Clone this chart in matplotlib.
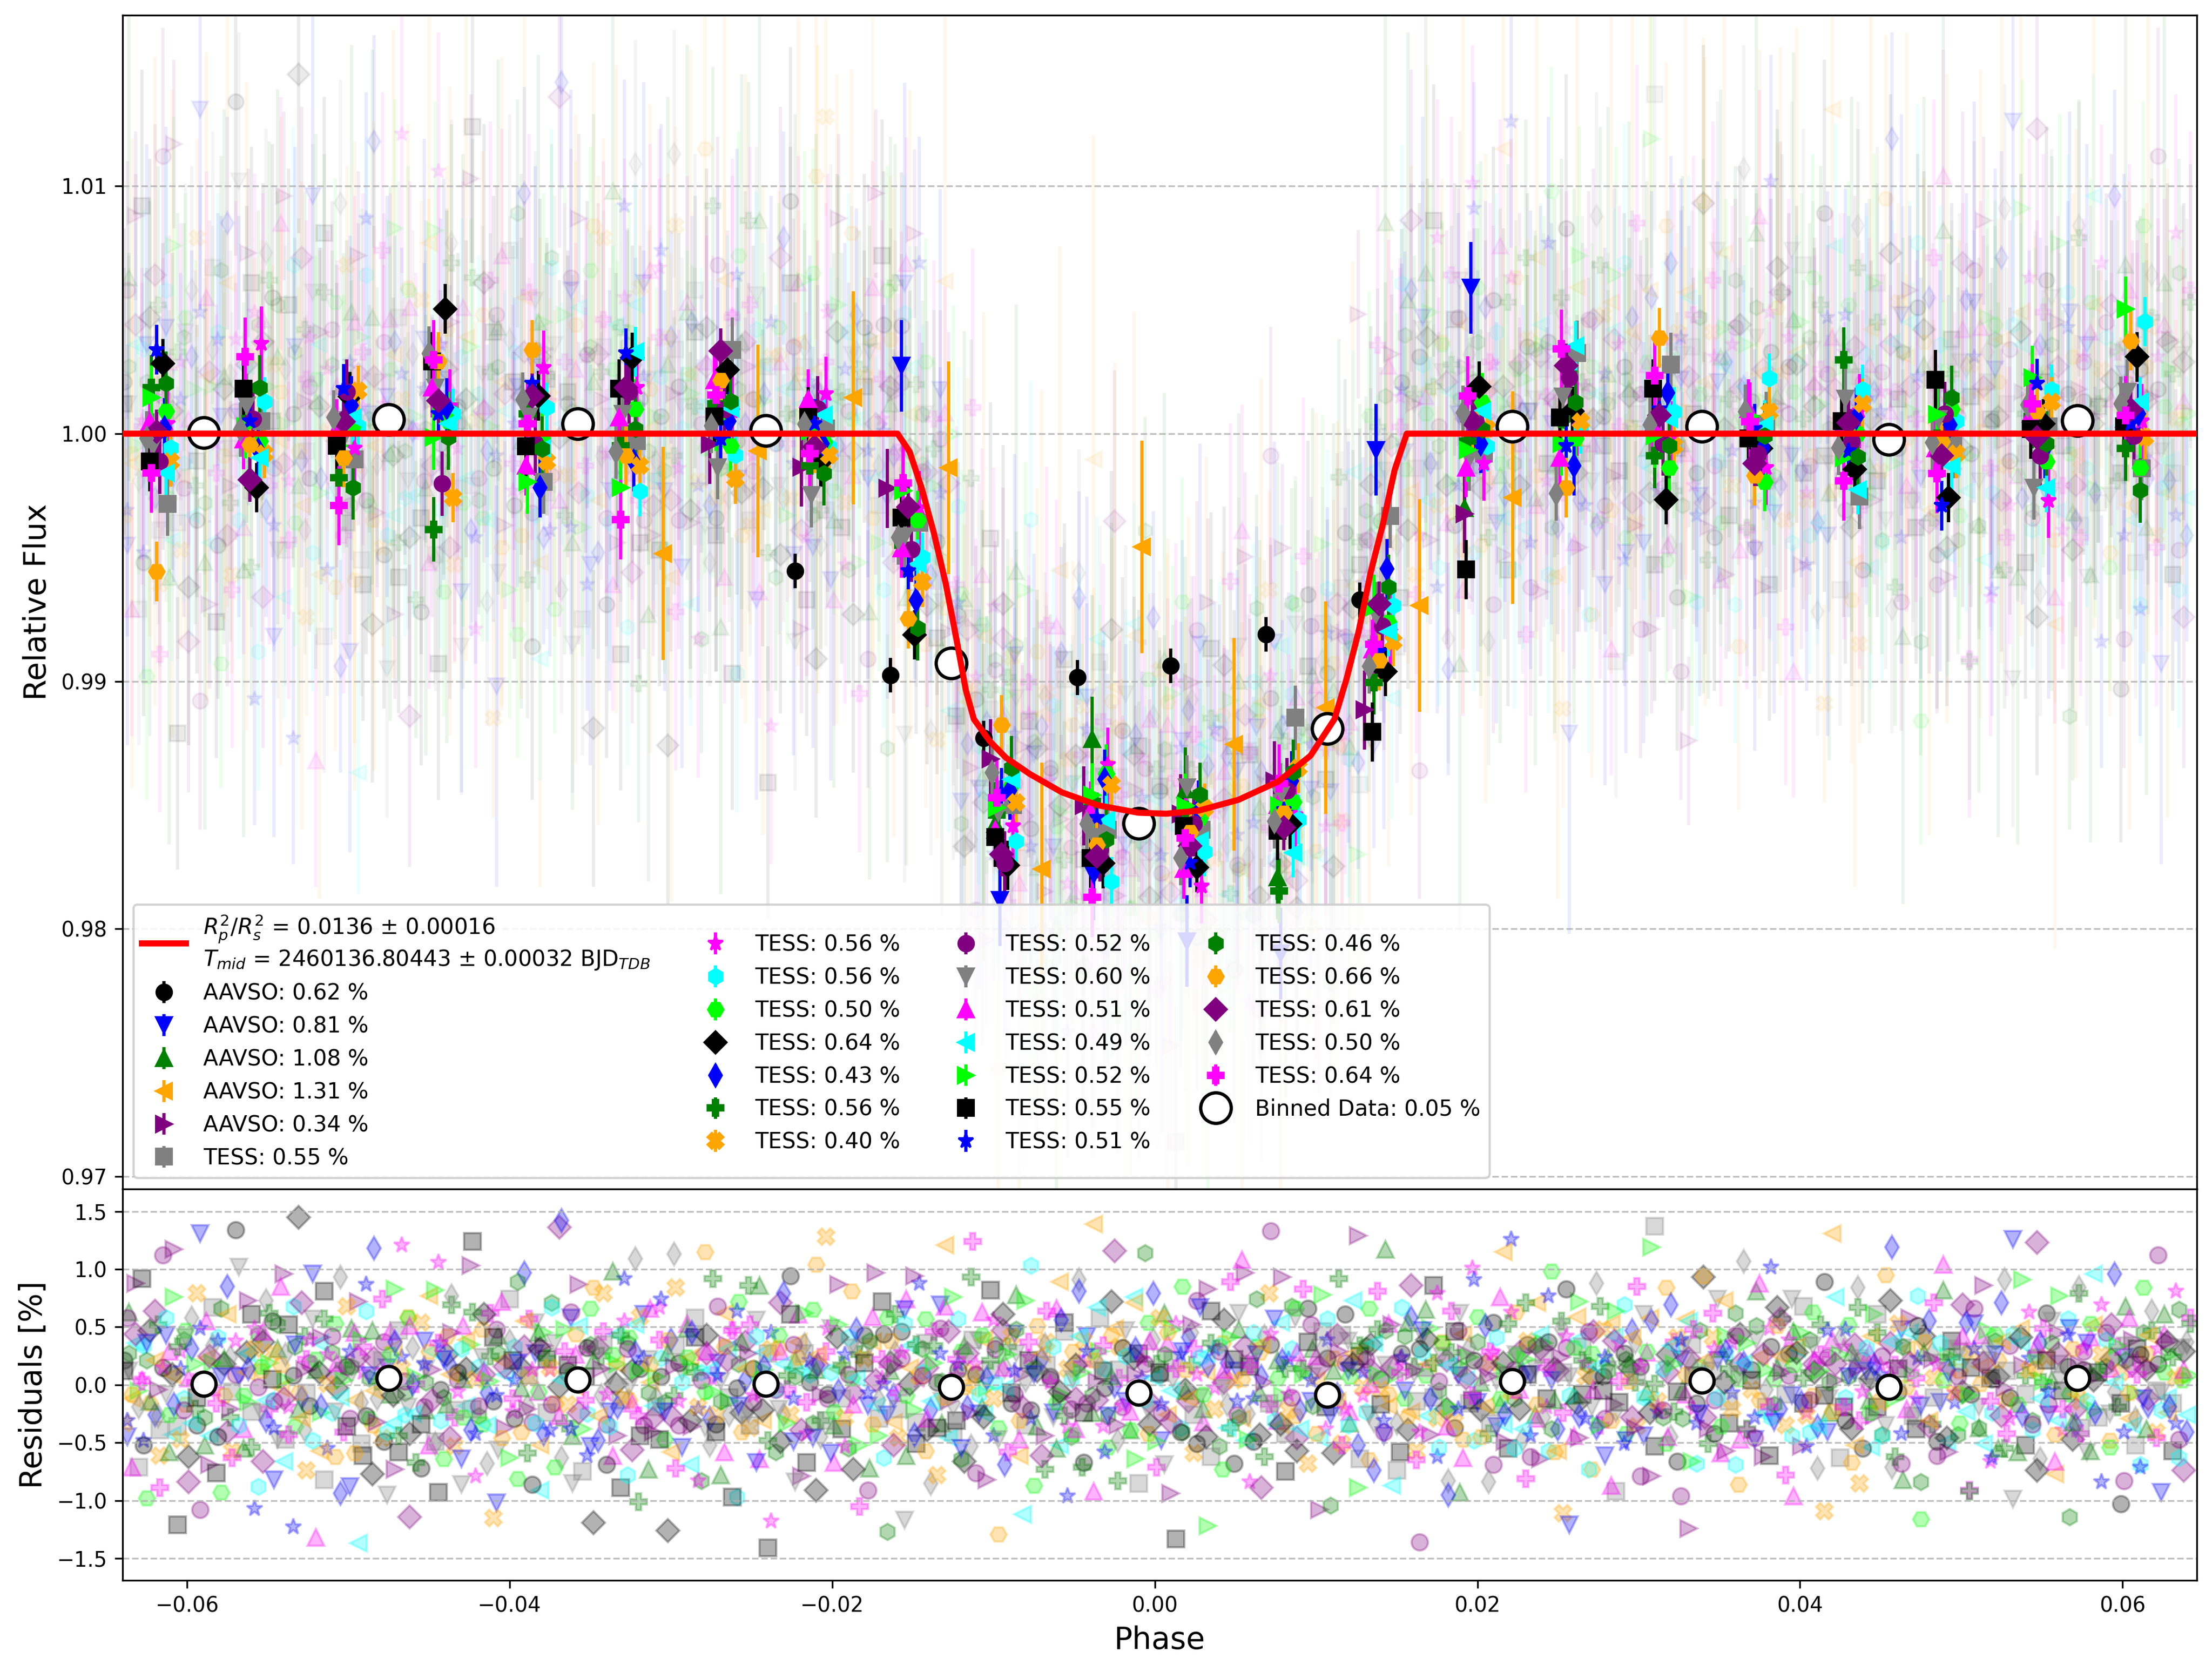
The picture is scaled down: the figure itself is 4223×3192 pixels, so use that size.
import matplotlib.pyplot as plt
import numpy as np

# ---------------- datos ----------------
# 25 conjuntos: 5 AAVSO + 20 TESS, dispersión en %
sources = ['AAVSO'] * 5 + ['TESS'] * 20
scatter_pct = [0.62, 0.81, 1.08, 1.31, 0.34, 0.55, 0.56, 0.56, 0.50, 0.64,
               0.43, 0.56, 0.40, 0.52, 0.60, 0.51, 0.49, 0.52, 0.55, 0.51,
               0.46, 0.66, 0.61, 0.50, 0.64]

# modelo de tránsito
model_phase = [-0.0640, -0.01595, -0.0152, -0.01445, -0.01371, -0.01296, -0.01222,
               -0.01172, -0.01122, -0.01023, -0.00923, -0.00774, -0.00575, -0.00352,
               -0.00103, 0.00071, 0.00269, 0.00518, 0.00766, 0.00965, 0.01114,
               0.01189, 0.01264, 0.01338, 0.01413, 0.01487, 0.01562, 0.0646]
model_flux = [1.0, 1.0, 0.99927, 0.99779, 0.99602, 0.99394, 0.99143,
              0.98965, 0.98847, 0.98758, 0.98691, 0.98625, 0.98551, 0.98499,
              0.98469, 0.98465, 0.98477, 0.98521, 0.98595, 0.98699, 0.98847,
              0.99010, 0.99202, 0.99439, 0.99631, 0.99853, 1.0, 1.0]

# puntos AAVSO agrupados (fase, flujo-1 en ppt, error ppt)
aavso_phase = [
    [-0.0223, -0.0164, -0.0106, -0.0048, 0.0010, 0.0069, 0.0127],
    [-0.0157, -0.0096, -0.0038, 0.0020, 0.0078, 0.0137, 0.0196],
    [-0.0099, -0.0039, 0.0019, 0.0076, 0.0192],
    [-0.0305, -0.0246, -0.0187, -0.0128, -0.0070, -0.0008, 0.0049, 0.0106, 0.0164, 0.0222],
    [-0.0276, -0.0219, -0.0166, -0.0102, -0.0044, 0.0016, 0.0074, 0.0130, 0.0192],
]
aavso_ppt = [
    [-5.55, -9.75, -12.29, -9.85, -9.37, -8.10, -6.72],
    [2.74, -18.84, -17.81, -20.5, -21.0, -0.65, 5.89],
    [-15.77, -12.33, -14.37, -17.92, -3.0],
    [-4.84, -0.70, 1.45, -1.38, -17.58, -4.57, -12.55, -11.07, -6.94, -2.58],
    [-0.43, -1.35, -2.21, -13.14, -15.03, -15.36, -14.03, -11.16, -3.23],
]
aavso_err_ppt = [0.7, 1.85, 1.7, 4.3, 1.6]

# puntos TESS agrupados: centros de bin + desplazamiento por sector
tess_bin_phase = [-0.0618, -0.0560, -0.0502, -0.0443, -0.0385, -0.0327, -0.0268,
                  -0.0210, -0.0152, -0.0094, -0.0035, 0.0023, 0.0081, 0.0140,
                  0.0198, 0.0256, 0.0314, 0.0373, 0.0431, 0.0489, 0.0548, 0.0606]
tess_dx = [0.0006, 0.0006, 0.0008, 0.0005, 0.0003, 0.0004, -0.0004, 0.0008, 0.0001, -0.0003,
           -0.0005, 0.0005, -0.0004, -0.0005, -0.0001, 0.0005, -0.0001, -0.0001, -0.0007, -0.0004]
tess_err_ppt = [1.3, 1.5, 1.0, 1.2, 1.0, 1.2, 1.3, 1.0, 1.3, 1.3,
                1.2, 1.0, 1.3, 1.2, 1.0, 1.3, 1.2, 0.9, 1.1, 1.6]
tess_ppt = [
    [-2.83, 0.5, -1.05, 0.9, -1.94, -0.3, 3.39, 0.2, -3.6, -15.0, -16.0, -16.0, -11.48, -3.32, -0.8, 3.26, 2.78, 0.4, -2.55, -0.5, 0.3, -1.4],
    [0.4, 3.63, -0.6, 1.1, 2.66, 1.86, 0.9, 1.61, -3.0, -15.85, -13.37, -18.29, -15.4, -8.0, -1.21, 0.6, -0.2, -1.37, 0.9, 0.3, -2.71, 0.5],
    [-0.57, 1.29, 0.3, 0.81, 1.05, -2.34, -0.86, -0.54, -5.0, -16.47, -18.10, -16.88, -15.6, -6.94, -0.52, 0.2, 0.89, 2.23, 1.78, 0.5, 1.78, 4.52],
    [0.9, -0.3, 0.32, 0.5, -0.2, 1.0, -0.48, -0.32, -3.5, -14.2, -13.74, -15.5, -14.88, -7.61, 1.26, -0.19, -1.37, -1.94, 0.0, 1.00, -1.13, -1.37],
    [2.83, -2.18, 1.5, 5.04, 1.53, 3.07, 2.58, -1.13, -8.13, -17.44, -17.36, -17.51, -15.77, -9.61, 1.91, 0.9, -2.66, -0.6, -1.45, -2.58, 0.4, 3.10],
    [0.24, -0.65, 1.13, 1.05, -2.18, -1.13, 0.5, -0.4, -6.73, -14.40, -13.96, -15.2, -14.03, -5.46, -0.40, -1.29, 1.65, -0.57, 0.65, 0.36, -0.6, 0.81],
    [1.86, 0.4, -1.78, -3.87, 0.8, -0.5, 1.2, -1.29, -4.5, -15.4, -14.85, -15.2, -18.47, -10.05, -0.3, 0.6, -0.9, 0.5, 2.99, -0.2, 0.7, -0.6],
    [-1.13, -0.81, 1.74, -2.58, -1.13, -1.29, -1.83, -0.86, -6.0, -14.9, -14.18, -15.14, -13.51, -8.4, 0.2, 0.48, -0.5, 0.89, 1.21, -0.8, 1.29, -0.16],
    [-1.13, 0.6, 1.70, -2.02, -0.4, 1.70, 0.97, 1.02, -4.68, -17.36, -16.8, -15.77, -14.40, -7.76, 0.5, 2.26, -0.40, -0.81, -0.3, 0.8, -0.9, -0.08],
    [-0.48, 1.13, -0.4, 1.86, 0.7, 0.81, -1.35, -2.48, -4.14, -15.3, -16.29, -14.29, -14.6, -7.3, -1.0, 1.49, 0.3, -0.2, 1.42, 0.6, -2.18, 1.70],
    [0.48, -0.24, 0.2, 1.86, -1.29, 0.65, 2.15, 1.40, -4.63, -16.0, -15.25, -17.58, -15.0, -8.72, -1.37, -0.97, 0.4, 1.0, 0.3, -0.6, 0.8, 0.6],
    [-1.6, -0.97, 0.65, 0.4, -0.6, 3.31, 1.02, 0.75, -5.27, -13.96, -15.62, -16.44, -16.92, -8.0, 0.9, 3.55, 0.6, 0.36, -2.26, -1.32, -2.18, 1.29],
    [1.45, 0.3, -0.5, -0.16, -1.94, -2.18, 0.6, 0.1, -2.31, -15.10, -14.6, -15.03, -15.03, -7.0, -0.65, -0.4, -0.08, 0.7, -0.97, 0.77, 2.26, 5.04],
    [-1.13, 1.81, -0.48, 2.91, -0.52, 1.81, 0.70, 0.67, -3.39, -16.29, -17.14, -15.85, -16.03, -12.05, -5.49, 0.65, 1.81, -0.2, 0.5, 2.18, 0.19, 0.3],
    [3.39, 0.5, 1.81, 0.8, 2.02, 3.26, -0.22, 0.4, -5.54, -14.5, -15.5, -17.32, -15.2, -8.8, 0.3, -0.5, 1.0, 0.2, -0.7, -2.91, 2.02, 0.4],
    [2.02, 1.86, -2.18, -0.16, -0.61, 0.19, 1.31, -1.61, -7.86, -13.51, -16.40, -14.59, -13.66, -6.20, 0.16, 1.26, -0.5, -0.08, -0.94, 1.45, -0.40, -2.29],
    [-5.57, -0.45, -0.97, 2.91, 3.39, -0.89, 2.15, -0.38, -7.48, -11.76, -16.62, -16.1, -15.33, -9.16, 0.6, -2.18, 3.87, -1.70, 0.4, -0.32, 0.9, 3.75],
    [0.08, -1.86, 0.48, 1.32, 1.53, 1.86, 3.34, -0.54, -2.96, -16.99, -17.07, -16.66, -15.92, -6.87, 0.48, 2.74, 0.73, -1.21, 0.45, -0.89, -0.16, 0.97],
    [-0.2, 0.16, 0.65, 3.23, 1.37, -0.73, 0.32, 0.38, -4.20, -13.70, -15.77, -17.14, -15.66, -9.39, 0.84, -2.42, 0.36, 0.89, -0.57, -0.36, 1.16, 1.21],
    [-1.6, 3.10, -2.91, 2.99, 0.40, -3.47, 1.56, -0.81, -1.99, -14.70, -18.73, -16.33, -14.14, -8.5, 1.53, 3.42, 2.34, 0.48, -1.91, -1.61, 1.21, 0.73],
]

# datos combinados (círculos blancos)
binned_phase = [-0.05896, -0.04751, -0.03577, -0.02411, -0.01263, -0.00098,
                0.01069, 0.02216, 0.0339, 0.0455, 0.05721]
binned_ppt = [0.03, 0.57, 0.40, 0.13, -9.26, -15.75, -11.92, 0.29, 0.29, -0.24, 0.52]
binned_resid = [0.01, 0.06, 0.045, 0.01, -0.02, -0.067, -0.088, 0.03, 0.034, -0.018, 0.056]

# datos crudos: fase en milésimas y tres series de residuos (%) en esas fases
raw_phase_milli = [
    -63.9, -63.7, -63.6, -63.4, -63.2, -63.0, -62.8, -62.7, -62.5, -62.3,
    -62.0, -61.8, -61.7, -61.5, -61.3, -61.1, -60.9, -60.8, -60.6, -60.4,
    -60.2, -60.1, -59.9, -59.7, -59.5, -59.4, -59.2, -58.9, -58.8, -58.6,
    -58.4, -58.2, -58.1, -57.9, -57.7, -57.5, -57.3, -57.2, -57.0, -56.8,
    -56.5, -56.3, -56.2, -56.0, -55.8, -55.6, -55.4, -55.3, -55.1, -54.9,
    -54.7, -54.6, -54.4, -54.2, -54.0, -53.9, -53.7, -53.4, -53.3, -53.1,
    -52.9, -52.7, -52.6, -52.4, -52.2, -52.0, -51.8, -51.7, -51.5, -51.3,
    -51.0, -50.8, -50.7, -50.5, -50.3, -50.1, -49.9, -49.8, -49.6, -49.4,
    -49.2, -49.1, -48.9, -48.7, -48.5, -48.4, -48.2, -47.9, -47.8, -47.6,
    -47.4, -47.2, -47.1, -46.9, -46.7, -46.5, -46.3, -46.2, -46.0, -45.8,
    -45.5, -45.3, -45.2, -45.0, -44.8, -44.6, -44.4, -44.3, -44.1, -43.9,
    -43.7, -43.6, -43.4, -43.2, -43.0, -42.9, -42.7, -42.4, -42.3, -42.1,
    -41.9, -41.7, -41.6, -41.4, -41.2, -41.0, -40.8, -40.7, -40.5, -40.3,
    -40.0, -39.8, -39.7, -39.5, -39.3, -39.1, -38.9, -38.8, -38.6, -38.4,
    -38.2, -38.1, -37.9, -37.7, -37.5, -37.4, -37.2, -36.9, -36.8, -36.6,
    -36.4, -36.2, -36.1, -35.9, -35.7, -35.5, -35.3, -35.2, -35.0, -34.8,
    -34.5, -34.3, -34.2, -34.0, -33.8, -33.6, -33.4, -33.3, -33.1, -32.9,
    -32.7, -32.6, -32.4, -32.2, -32.0, -31.9, -31.7, -31.4, -31.3, -31.1,
    -30.9, -30.7, -30.6, -30.4, -30.2, -30.0, -29.8, -29.7, -29.5, -29.3,
    -29.0, -28.8, -28.7, -28.5, -28.3, -28.1, -27.9, -27.8, -27.6, -27.4,
    -27.2, -27.1, -26.9, -26.7, -26.5, -26.4, -26.2, -25.9, -25.8, -25.6,
    -25.4, -25.2, -25.1, -24.9, -24.7, -24.5, -24.3, -24.2, -24.0, -23.8,
    -23.5, -23.3, -23.2, -23.0, -22.8, -22.6, -22.4, -22.3, -22.1, -21.9,
    -21.7, -21.6, -21.4, -21.2, -21.0, -20.9, -20.7, -20.4, -20.3, -20.1,
    -19.9, -19.7, -19.6, -19.4, -19.2, -19.0, -18.8, -18.7, -18.5, -18.3,
    -18.0, -17.8, -17.7, -17.5, -17.3, -17.1, -16.9, -16.8, -16.6, -16.4,
    -16.2, -16.1, -15.9, -15.7, -15.5, -15.4, -15.2, -14.9, -14.8, -14.6,
    -14.4, -14.2, -14.1, -13.9, -13.7, -13.5, -13.3, -13.2, -13.0, -12.8,
    -12.5, -12.3, -12.2, -12.0, -11.8, -11.6, -11.4, -11.3, -11.1, -10.9,
    -10.7, -10.6, -10.4, -10.2, -10.0, -9.9, -9.7, -9.4, -9.3, -9.1,
    -8.9, -8.7, -8.6, -8.4, -8.2, -8.0, -7.8, -7.7, -7.5, -7.3,
    -7.0, -6.8, -6.7, -6.5, -6.3, -6.1, -5.9, -5.8, -5.6, -5.4,
    -5.2, -5.1, -4.9, -4.7, -4.5, -4.4, -4.2, -3.9, -3.8, -3.6,
    -3.4, -3.2, -3.1, -2.9, -2.7, -2.5, -2.3, -2.2, -2.0, -1.8,
    -1.5, -1.3, -1.2, -1.0, -0.8, -0.6, -0.4, -0.3, -0.1, 0.1,
    0.3, 0.4, 0.6, 0.8, 1.0, 1.1, 1.3, 1.6, 1.7, 1.9,
    2.1, 2.3, 2.4, 2.6, 2.8, 3.0, 3.2, 3.3, 3.5, 3.7,
    4.0, 4.2, 4.3, 4.5, 4.7, 4.9, 5.1, 5.2, 5.4, 5.6,
    5.8, 5.9, 6.1, 6.3, 6.5, 6.6, 6.8, 7.1, 7.2, 7.4,
    7.6, 7.8, 7.9, 8.1, 8.3, 8.5, 8.7, 8.8, 9.0, 9.2,
    9.5, 9.7, 9.8, 10.0, 10.2, 10.4, 10.6, 10.7, 10.9, 11.1,
    11.3, 11.4, 11.6, 11.8, 12.0, 12.1, 12.3, 12.6, 12.7, 12.9,
    13.1, 13.3, 13.4, 13.6, 13.8, 14.0, 14.2, 14.3, 14.5, 14.7,
    15.0, 15.2, 15.3, 15.5, 15.7, 15.9, 16.1, 16.2, 16.4, 16.6,
    16.8, 16.9, 17.1, 17.3, 17.5, 17.6, 17.8, 18.1, 18.2, 18.4,
    18.6, 18.8, 18.9, 19.1, 19.3, 19.5, 19.7, 19.8, 20.0, 20.2,
    20.5, 20.7, 20.8, 21.0, 21.2, 21.4, 21.6, 21.7, 21.9, 22.1,
    22.3, 22.4, 22.6, 22.8, 23.0, 23.1, 23.3, 23.6, 23.7, 23.9,
    24.1, 24.3, 24.4, 24.6, 24.8, 25.0, 25.2, 25.3, 25.5, 25.7,
    26.0, 26.2, 26.3, 26.5, 26.7, 26.9, 27.1, 27.2, 27.4, 27.6,
    27.8, 27.9, 28.1, 28.3, 28.5, 28.6, 28.8, 29.1, 29.2, 29.4,
    29.6, 29.8, 29.9, 30.1, 30.3, 30.5, 30.7, 30.8, 31.0, 31.2,
    31.5, 31.7, 31.8, 32.0, 32.2, 32.4, 32.6, 32.7, 32.9, 33.1,
    33.3, 33.4, 33.6, 33.8, 34.0, 34.1, 34.3, 34.6, 34.7, 34.9,
    35.1, 35.3, 35.4, 35.6, 35.8, 36.0, 36.2, 36.3, 36.5, 36.7,
    37.0, 37.2, 37.3, 37.5, 37.7, 37.9, 38.1, 38.2, 38.4, 38.6,
    38.8, 38.9, 39.1, 39.3, 39.5, 39.6, 39.8, 40.1, 40.2, 40.4,
    40.6, 40.8, 40.9, 41.1, 41.3, 41.5, 41.7, 41.8, 42.0, 42.2,
    42.5, 42.7, 42.8, 43.0, 43.2, 43.4, 43.6, 43.7, 43.9, 44.1,
    44.3, 44.4, 44.6, 44.8, 45.0, 45.1, 45.3, 45.6, 45.7, 45.9,
    46.1, 46.3, 46.4, 46.6, 46.8, 47.0, 47.2, 47.3, 47.5, 47.7,
    48.0, 48.2, 48.3, 48.5, 48.7, 48.9, 49.1, 49.2, 49.4, 49.6,
    49.8, 49.9, 50.1, 50.3, 50.5, 50.6, 50.8, 51.1, 51.2, 51.4,
    51.6, 51.8, 51.9, 52.1, 52.3, 52.5, 52.7, 52.8, 53.0, 53.2,
    53.5, 53.7, 53.8, 54.0, 54.2, 54.4, 54.6, 54.7, 54.9, 55.1,
    55.3, 55.4, 55.6, 55.8, 56.0, 56.1, 56.3, 56.6, 56.7, 56.9,
    57.1, 57.3, 57.4, 57.6, 57.8, 58.0, 58.2, 58.3, 58.5, 58.7,
    59.0, 59.2, 59.3, 59.5, 59.7, 59.9, 60.1, 60.2, 60.4, 60.6,
    60.8, 60.9, 61.1, 61.3, 61.5, 61.6, 61.8, 62.1, 62.2, 62.4,
    62.6, 62.8, 62.9, 63.1, 63.3, 63.5, 63.7, 63.8, 64.0, 64.2,
]
raw_resid_a = [
    0.21, -0.45, 0.63, -0.12, 0.88, -0.71, 0.05, 0.34, -0.98, 0.47,
    -0.26, 0.52, -0.61, 1.12, -0.08, 0.29, -0.43, 0.76, -1.21, 0.14,
    0.39, -0.17, -0.84, 0.58, 0.02, -0.35, 1.31, -0.52, 0.23, -0.69,
    0.67, -0.04, 0.41, -0.93, 0.18, 0.85, -0.28, -0.57, 0.09, 1.02,
    -0.38, 0.27, -0.15, 0.61, -1.07, 0.44, 0.12, -0.66, 0.73, -0.21,
    0.55, -0.82, 0.31, -0.03, 0.96, -0.47, -0.19, 0.68, -0.36, 1.45,
    -0.11, 0.42, -0.74, 0.19, 0.57, -1.32, 0.36, -0.24, 0.81, -0.55,
    0.28, -0.62, 0.07, 0.93, -0.41, 0.16, -0.88, 0.49, -0.13, 0.72,
    -0.51, 0.11, 0.64, -0.29, -0.77, 1.18, 0.03, -0.46, 0.37, -0.95,
    0.46, -0.33, 0.83, -0.58, 0.24, -0.07, 0.59, -1.14, 0.32, 0.01,
    -0.72, 0.38, -0.22, 0.77, 0.13, -0.49, 1.06, -0.31, -0.64, 0.26,
    0.17, 0.69, -0.53, 0.04, -0.86, 0.51, -0.18, 0.35, 1.24, -0.42,
    -0.27, 0.48, 0.09, -0.68, 0.62, -0.14, -1.02, 0.43, 0.21, -0.37,
    0.74, -0.23, 0.33, -0.81, 0.15, 0.97, -0.59, 0.06, -0.32, 0.54,
    -0.06, -0.91, 0.45, 0.22, -0.39, 0.71, -0.16, 1.36, -0.63, 0.29,
    0.12, 0.58, -0.44, -0.02, 0.87, -0.75, 0.31, -0.25, 0.66, -1.19,
    -0.48, 0.25, 0.79, -0.34, 0.07, -0.61, 0.44, 0.18, -0.89, 0.92,
    0.36, -0.13, -0.56, 1.09, -0.27, 0.14, 0.61, -0.73, 0.02, -0.41,
    -0.19, 0.67, 0.23, -0.47, -1.26, 0.39, -0.09, 0.84, -0.35, 0.11,
    0.53, -0.69, 0.16, 0.41, -0.21, -0.83, 1.15, 0.27, -0.52, 0.08,
    -0.34, 0.19, -0.78, 0.62, 0.35, -0.11, 0.48, -0.97, 0.72, -0.24,
    0.04, 0.86, -0.37, -0.15, 0.56, -0.64, 0.28, 0.13, -1.41, 0.45,
    -0.58, 0.32, 0.71, -0.26, -0.04, 0.94, -0.49, 0.21, 0.37, -0.79,
    0.27, -0.42, 0.09, 0.65, -0.91, 0.17, -0.31, 1.28, -0.12, 0.49,
    -0.67, 0.14, 0.52, -0.38, 0.26, -0.55, 0.81, -0.07, 0.33, -1.05,
    0.43, -0.18, -0.72, 0.37, 0.97, -0.29, 0.06, -0.63, 0.58, 0.19,
    -0.09, 0.61, -0.46, 0.23, -1.17, 0.74, 0.34, -0.22, -0.51, 0.88,
    0.31, -0.57, 0.15, -0.85, 0.46, 0.02, 0.69, -0.33, 1.21, -0.14,
    -0.41, 0.08, 0.57, 0.29, -0.66, -0.19, 0.93, 0.11, -0.76, 0.38,
    0.63, -0.25, -0.03, 0.82, -0.44, 0.35, -1.29, 0.47, 0.16, -0.58,
    -0.16, 0.44, 0.78, -0.61, 0.09, -0.35, 0.24, 1.03, -0.87, 0.12,
    0.22, -0.73, 0.37, 0.05, -0.28, 0.66, -0.52, -0.08, 0.54, -0.96,
    -0.45, 0.29, -0.12, 0.91, 0.18, -0.67, 0.42, -0.24, 1.39, 0.03,
    0.58, -0.36, 0.14, -0.54, 0.72, -0.01, -0.83, 0.33, -0.19, 0.47,
    -0.23, 0.76, -0.64, 0.27, 0.06, 1.14, -0.42, -0.15, 0.39, -0.71,
    0.09, -0.48, 0.62, -0.26, -0.94, 0.21, 0.53, -0.37, 0.85, -0.04,
    0.41, 0.17, -0.59, 0.73, -0.11, -0.32, 0.26, -1.22, 0.64, 0.31,
    -0.53, 0.36, 0.02, -0.17, 0.89, -0.68, 0.12, 0.48, -0.29, 0.97,
    0.18, -0.84, 0.45, 0.33, -0.43, 0.07, -0.62, 0.79, 1.33, -0.21,
    -0.31, 0.54, -0.09, -0.75, 0.22, 0.68, -0.27, -0.46, 0.14, 0.83,
    0.66, -0.14, 0.31, 0.04, -1.08, 0.46, -0.38, 0.57, -0.06, -0.59,
    -0.08, 0.92, -0.51, 0.19, 0.38, -0.23, 0.73, -0.89, 0.25, 0.11,
    0.34, -0.65, 0.13, -0.31, 0.81, 0.05, -0.44, 1.17, -0.18, 0.52,
    -0.74, 0.23, 0.67, -0.12, -0.39, 0.58, 0.16, -0.57, -1.36, 0.42,
    0.15, -0.27, 0.49, 0.86, -0.62, -0.05, 0.37, 0.21, -0.83, 0.64,
    -0.37, 0.08, -0.93, 0.44, 0.27, -0.16, 1.01, -0.48, 0.59, -0.22,
    0.51, -0.42, 0.19, -0.69, 0.03, 0.76, -0.34, 0.12, -0.55, 1.26,
    -0.12, 0.63, 0.28, -0.47, -0.81, 0.35, 0.09, -0.26, 0.71, -0.64,
    0.26, -0.19, -0.57, 0.98, 0.14, -0.38, 0.55, -1.11, 0.32, 0.07,
    -0.44, 0.39, 0.72, -0.08, -0.29, 0.17, -0.73, 0.46, 0.88, -0.35,
    0.07, -0.61, 0.24, 0.53, -0.17, -0.92, 0.36, 0.69, -0.42, 0.15,
    0.47, 0.02, -0.36, -0.79, 0.61, 0.28, -0.14, 1.19, -0.53, -0.23,
    -0.28, 0.84, 0.11, -0.45, 0.37, -0.66, 0.22, -0.04, 0.57, -1.24,
    0.35, -0.21, -0.68, 0.16, 0.93, 0.06, -0.51, 0.41, -0.13, 0.74,
    -0.59, 0.27, 0.43, -0.33, -0.07, 0.62, -0.86, 0.18, 1.07, -0.39,
    0.13, -0.47, 0.81, 0.24, -0.62, -0.19, 0.49, -0.28, 0.05, 0.67,
    -0.21, 0.57, -0.35, 0.08, 0.74, -0.96, 0.31, 0.45, -0.16, -0.53,
    0.39, -0.09, 0.18, -0.72, 0.26, 0.89, -0.41, -0.24, 1.31, 0.04,
    -0.63, 0.33, -0.11, 0.52, -0.38, 0.14, 0.67, -0.85, 0.21, -0.02,
    0.28, -0.54, 0.61, -0.19, 0.09, -0.43, 0.95, 0.36, -0.71, 0.17,
    -0.06, 0.48, -0.82, 0.31, 0.58, -0.27, -0.12, 0.77, -1.16, 0.42,
    0.55, -0.34, 0.06, -0.61, 0.19, 1.04, -0.49, 0.25, 0.38, -0.15,
    -0.43, 0.12, 0.69, 0.27, -0.91, -0.08, 0.53, -0.37, 0.16, 0.86,
    0.21, -0.66, -0.24, 0.44, 0.07, 0.71, -0.55, -0.13, 0.34, -0.99,
    -0.17, 0.36, 0.91, -0.52, 0.23, -0.31, 0.14, 1.23, -0.64, 0.49,
    0.62, -0.26, 0.04, -0.77, 0.45, 0.18, -0.39, 0.57, -0.08, -0.47,
    -0.35, 0.79, -0.14, 0.29, -0.58, 0.41, 0.96, -0.22, 0.11, -0.84,
    0.16, -0.48, 0.52, -0.06, 0.33, -1.03, 0.24, 0.68, -0.29, 0.39,
    -0.52, 0.22, -0.69, 0.84, 0.13, -0.18, 0.47, -0.41, 1.12, -0.07,
    0.44, -0.11, 0.26, -0.57, -0.33, 0.65, 0.09, -0.74, 0.37, 0.58,
]
raw_resid_b = [
    -0.33, 0.58, 0.12, -0.71, 0.36, -0.05, 0.92, -0.48, 0.21, -0.16,
    0.64, -0.27, -0.89, 0.15, 0.43, -0.58, 0.08, 1.17, -0.36, 0.29,
    -0.12, 0.47, -0.62, 0.31, -0.21, 0.79, -1.08, 0.03, 0.55, -0.44,
    0.19, -0.76, 0.38, 0.66, -0.09, -0.41, 0.24, -0.63, 1.34, 0.07,
    -0.55, 0.11, 0.73, -0.23, 0.49, -0.88, 0.16, 0.37, -0.31, 0.62,
    0.28, -0.14, -0.47, 0.85, -0.66, 0.04, 0.52, -1.23, 0.33, -0.07,
    0.71, -0.39, 0.22, -0.18, 0.96, 0.13, -0.57, 0.41, -0.82, 0.26,
    -0.24, 0.53, -0.03, -0.94, 0.17, 0.68, -0.29, 0.09, 0.45, -1.37,
    0.39, -0.61, 0.87, 0.06, -0.35, 0.23, -0.12, 0.74, -0.49, 0.15,
    -0.08, 0.32, -0.73, 0.47, 1.21, -0.26, 0.58, -0.42, 0.01, -0.67,
    0.54, -0.19, 0.14, -0.52, 0.29, 0.82, -0.93, 0.36, -0.11, 0.42,
    -0.46, 0.77, -0.28, 0.11, -0.64, 0.05, 0.39, 1.03, -0.21, -0.79,
    0.16, -0.34, 0.61, -0.07, 0.25, -1.15, 0.48, -0.56, 0.72, 0.09,
    -0.63, 0.21, 0.04, 0.89, -0.41, 0.33, -0.18, 0.57, -0.86, 0.27,
    0.45, -0.52, 0.34, -0.24, 0.13, 0.67, -0.71, -0.02, 1.42, -0.33,
    -0.17, 0.63, -0.85, 0.26, 0.51, -0.38, 0.07, -0.61, 0.35, 0.84,
    0.32, -0.09, 0.46, -0.69, -0.23, 0.98, 0.18, -0.44, -0.13, 0.55,
    -0.78, 0.41, 0.12, 0.28, -1.01, 0.59, -0.35, 0.22, 0.66, -0.18,
    0.07, -0.47, 0.74, -0.15, 0.39, -0.27, 1.13, -0.72, 0.19, -0.54,
    0.49, 0.24, -0.36, 0.58, -0.83, 0.11, -0.06, 0.43, -0.29, 0.92,
    -0.26, 0.68, 0.03, -0.58, 0.31, -0.14, -0.97, 0.64, 0.18, -0.41,
    0.37, -0.22, 0.52, 0.14, -0.67, 0.86, -0.31, -0.05, 0.27, -1.18,
    -0.04, 0.43, -0.49, 0.79, 0.08, -0.26, 0.35, -0.84, 0.61, 0.12,
    0.62, -0.67, 0.21, -0.33, 1.04, 0.17, -0.45, 0.29, -0.08, -0.59,
    -0.35, 0.14, 0.87, -0.12, -0.53, 0.41, 0.06, -0.73, 0.48, 0.26,
    0.23, -0.91, 0.33, 0.59, -0.18, -0.44, 0.72, 0.01, -1.27, 0.38,
    -0.52, 0.28, -0.07, 0.46, 0.65, -0.61, 0.15, 0.94, -0.32, 0.04,
    0.11, 0.57, -0.39, -0.22, 0.34, -0.78, 0.49, -0.14, 0.68, -0.46,
    0.76, -0.31, 0.18, -0.64, -0.02, 0.27, -0.53, 1.24, 0.09, -0.25,
    -0.19, 0.39, -0.82, 0.13, 0.56, 0.02, -0.37, 0.61, -0.69, 0.33,
    0.42, -0.08, 0.27, -0.47, -1.12, 0.73, 0.21, -0.29, 0.14, 0.51,
    -0.61, 0.35, 0.64, 0.07, -0.24, -0.55, 0.89, -0.11, 0.46, -0.36,
    0.05, -0.43, 0.17, 0.81, -0.71, 0.38, -0.16, 0.24, -0.92, 0.67,
    0.29, 0.12, -0.58, -0.27, 0.43, 1.16, -0.48, 0.06, 0.32, -0.14,
    -0.39, 0.71, 0.09, -0.85, 0.22, -0.13, 0.54, -0.34, 0.79, 0.18,
    0.58, -0.24, -0.69, 0.36, -0.05, 0.48, -1.33, 0.26, -0.41, 0.13,
    -0.14, 0.45, 0.31, -0.51, 0.67, -0.21, 0.11, 0.83, -0.62, -0.03,
    0.34, -0.73, 0.56, 0.19, -0.37, 0.04, -0.26, 0.62, 1.08, -0.48,
    -0.47, 0.16, -0.12, 0.74, 0.28, -0.89, 0.42, -0.17, 0.35, 0.57,
    0.21, -0.35, 0.93, -0.42, -0.08, 0.31, 0.66, -0.57, -0.22, 0.14,
    -0.68, 0.52, 0.07, 0.25, -0.46, 0.78, -0.19, 0.39, -1.04, 0.23,
    0.43, -0.16, -0.52, 0.61, 0.12, -0.33, 0.27, 1.29, -0.64, -0.09,
    -0.23, 0.66, 0.35, -0.74, 0.48, -0.04, -0.41, 0.17, 0.53, -0.87,
    0.09, -0.58, 0.24, 0.42, -0.27, 0.86, 0.13, -0.65, 0.31, 0.47,
    0.65, 0.18, -0.43, -0.11, 0.79, -0.54, 0.36, -0.21, -0.95, 0.28,
    -0.32, 0.47, 0.62, -0.63, 0.05, 0.24, -0.13, 0.91, 0.37, -0.45,
    0.17, -0.84, 0.29, 0.54, -0.36, -0.17, 1.15, -0.49, 0.08, 0.63,
    -0.55, 0.26, -0.21, 0.09, 0.71, 0.38, -0.62, 0.14, -0.29, 0.44,
    0.36, -0.12, 0.77, -0.38, -0.58, 0.12, 0.49, -0.24, 0.83, -1.21,
    -0.09, 0.59, -0.46, 0.33, 0.19, -0.73, 0.27, 0.06, -0.37, 0.68,
    0.48, -0.29, 0.13, -0.87, 0.42, 0.64, -0.15, -0.51, 0.22, 0.03,
    -0.28, 0.37, 0.85, 0.16, -0.44, -0.06, 0.58, -0.79, 1.37, -0.19,
    0.14, -0.51, 0.26, 0.69, -0.23, 0.41, -0.96, 0.32, -0.08, 0.55,
    -0.66, 0.08, -0.33, 0.47, 0.94, -0.28, 0.17, 0.62, -0.42, 0.21,
    0.31, 0.73, -0.57, -0.14, 0.36, -0.69, 0.05, 0.44, 0.19, -0.38,
    -0.04, -0.46, 0.39, 0.88, -0.25, 0.13, -0.61, 1.02, -0.17, 0.51,
    0.57, 0.21, -0.78, 0.27, -0.09, 0.46, 0.33, -0.53, 0.68, -0.24,
    -0.41, 0.63, 0.11, -0.36, 0.52, -1.09, 0.24, -0.12, 0.39, 0.76,
    0.26, -0.19, 0.48, 0.07, -0.67, 0.35, 0.84, -0.31, -0.55, 0.12,
    -0.13, 0.42, -0.27, 0.61, 0.17, -0.44, -0.02, 0.73, 1.19, -0.62,
    0.53, -0.68, 0.32, -0.21, 0.45, 0.09, -0.38, 0.23, -0.84, 0.37,
    -0.36, 0.27, 0.71, -0.49, -0.15, 0.82, 0.14, -0.58, 0.31, -0.07,
    0.19, -0.33, -0.06, 0.54, -0.92, 0.28, 0.66, -0.19, 0.43, -0.51,
    0.47, 0.06, -0.63, 0.38, 0.21, -0.27, 0.91, -0.42, -0.11, 1.26,
    -0.58, 0.49, 0.17, -0.08, 0.63, -0.39, 0.25, -0.74, 0.36, 0.02,
    0.24, -0.17, 0.55, -0.66, -0.31, 0.77, -0.05, 0.43, -1.14, 0.31,
    -0.21, 0.84, -0.42, 0.13, 0.36, -0.57, 0.52, 0.07, -0.28, 0.69,
    0.39, -0.54, 0.22, 0.96, -0.19, 0.11, -0.83, 0.34, 0.58, -0.35,
    -0.07, 0.31, -0.71, 0.45, 0.27, -0.12, 0.64, -0.46, 0.18, -0.93,
    0.61, -0.24, 0.38, -0.16, 0.81, -0.63, 0.04, 0.29, -0.41, 0.53,
]
raw_resid_c = [
    0.12, -0.31, 0.27, -0.08, 0.44, -0.19, 0.03, -0.52, 0.36, -0.14,
    0.21, -0.04, -0.39, 0.15, 0.58, -0.26, 0.09, -0.17, 0.33, -0.47,
    -0.22, 0.41, 0.06, -0.33, 0.18, -0.11, 0.49, -0.28, 0.02, 0.25,
    0.34, -0.16, -0.45, 0.07, 0.23, 0.61, -0.21, -0.06, 0.38, -0.35,
    -0.09, 0.28, 0.14, -0.54, 0.31, -0.02, -0.24, 0.46, -0.13, 0.19,
    0.05, -0.37, 0.52, 0.17, -0.12, 0.26, -0.43, 0.08, 0.35, -0.21,
    -0.29, 0.13, -0.07, 0.39, -0.48, 0.22, 0.11, -0.18, 0.57, 0.01,
    0.42, -0.23, 0.19, -0.11, 0.04, -0.36, 0.29, 0.16, -0.59, 0.24,
    -0.15, 0.33, -0.27, 0.08, 0.47, -0.05, -0.32, 0.21, 0.12, -0.41,
    0.26, -0.09, 0.37, -0.44, 0.14, 0.03, -0.19, 0.51, -0.25, 0.07,
    -0.34, 0.18, 0.02, 0.29, -0.13, -0.51, 0.36, -0.04, 0.22, -0.17,
    0.09, 0.45, -0.22, -0.06, 0.31, -0.28, 0.14, -0.39, 0.63, 0.05,
    -0.18, 0.24, 0.11, -0.35, 0.03, 0.41, -0.09, 0.27, -0.46, 0.16,
    0.38, -0.12, -0.29, 0.19, -0.03, 0.55, -0.21, 0.08, 0.13, -0.33,
    -0.06, 0.31, -0.42, 0.23, 0.15, -0.17, 0.36, -0.27, 0.04, 0.48,
    0.17, -0.38, 0.09, 0.44, -0.24, 0.06, -0.13, 0.32, -0.53, 0.21,
    -0.27, 0.14, 0.35, -0.08, -0.36, 0.26, 0.01, -0.19, 0.43, -0.11,
    0.31, -0.02, -0.16, 0.52, 0.12, -0.44, 0.23, -0.07, 0.18, -0.29,
    -0.11, 0.39, 0.07, -0.23, 0.28, -0.58, 0.16, 0.34, -0.14, 0.02,
    0.24, -0.31, 0.45, 0.11, -0.19, 0.04, -0.37, 0.29, 0.13, -0.06,
    -0.41, 0.08, -0.14, 0.33, 0.21, -0.26, 0.47, -0.03, -0.18, 0.37,
    0.14, 0.27, -0.35, -0.09, 0.42, 0.05, -0.22, 0.16, -0.48, 0.31,
    -0.04, -0.21, 0.29, 0.18, -0.33, 0.61, -0.12, 0.07, 0.24, -0.39,
    0.35, -0.15, 0.02, -0.46, 0.13, 0.26, -0.08, -0.31, 0.49, 0.11,
    -0.23, 0.41, -0.05, 0.17, -0.28, 0.09, 0.32, -0.17, 0.06, -0.52,
    0.19, -0.07, 0.38, -0.34, 0.04, -0.13, 0.22, 0.44, -0.26, 0.12,
    -0.32, 0.16, -0.21, 0.28, 0.53, -0.09, 0.01, -0.43, 0.35, 0.07,
    0.08, 0.36, -0.29, -0.14, 0.19, -0.37, 0.27, 0.03, -0.11, 0.46,
    -0.16, 0.22, 0.13, -0.55, 0.34, -0.02, -0.24, 0.39, 0.18, -0.08,
    0.43, -0.28, 0.06, 0.21, -0.12, 0.31, -0.47, 0.15, -0.03, 0.26,
    -0.07, 0.12, 0.48, -0.31, -0.19, 0.04, 0.37, -0.22, 0.09, -0.36,
    0.27, -0.44, 0.17, 0.02, 0.33, -0.15, -0.06, 0.56, -0.27, 0.14,
    -0.21, 0.05, -0.38, 0.42, 0.11, -0.24, 0.29, -0.09, 0.21, -0.13,
    0.16, 0.34, -0.03, -0.27, 0.07, 0.49, -0.35, 0.13, -0.18, 0.25,
    -0.39, 0.23, 0.31, -0.11, -0.04, 0.18, -0.22, 0.38, 0.06, -0.49,
    0.11, -0.17, 0.26, 0.45, -0.32, 0.08, 0.14, -0.41, 0.29, -0.05,
    -0.12, 0.52, -0.26, 0.09, 0.24, -0.08, -0.45, 0.17, 0.36, -0.21,
    0.29, -0.03, 0.13, -0.37, 0.41, 0.22, -0.14, -0.28, 0.05, 0.33,
    -0.25, 0.17, -0.49, 0.26, -0.07, 0.35, 0.02, -0.16, 0.44, -0.31,
    0.06, -0.34, 0.21, 0.14, -0.22, -0.11, 0.58, 0.28, -0.38, 0.09,
    0.37, 0.04, -0.18, -0.42, 0.16, 0.31, -0.06, 0.23, -0.27, 0.12,
    -0.14, 0.29, 0.43, -0.21, -0.35, 0.07, 0.18, -0.52, 0.34, -0.02,
    0.22, -0.26, 0.01, 0.36, 0.09, -0.17, -0.31, 0.47, -0.08, 0.15,
    -0.33, 0.11, 0.27, -0.05, 0.54, -0.23, 0.12, -0.14, -0.41, 0.28,
    0.08, 0.39, -0.12, 0.19, -0.29, 0.03, 0.25, -0.36, 0.17, -0.19,
    0.46, -0.21, 0.14, -0.47, 0.06, 0.32, -0.09, 0.21, -0.15, 0.02,
    -0.18, 0.07, -0.33, 0.28, 0.41, -0.12, 0.19, -0.25, 0.53, -0.06,
    0.13, 0.26, -0.04, -0.38, 0.22, 0.09, -0.44, 0.34, -0.17, 0.31,
    -0.28, 0.15, 0.37, 0.04, -0.13, -0.57, 0.24, 0.11, 0.42, -0.09,
    0.32, -0.16, -0.27, 0.21, 0.07, 0.46, -0.19, -0.04, 0.16, -0.35,
    -0.05, 0.24, 0.12, -0.31, 0.38, -0.22, 0.03, 0.27, -0.48, 0.18,
    0.41, -0.37, 0.08, 0.16, -0.11, 0.29, -0.24, 0.55, 0.01, -0.14,
    -0.22, 0.13, -0.45, 0.34, 0.18, -0.06, 0.39, -0.29, 0.09, 0.23,
    0.17, 0.48, -0.16, -0.25, 0.03, 0.21, -0.38, 0.12, 0.31, -0.11,
    -0.36, 0.02, 0.29, 0.14, -0.21, 0.43, 0.07, -0.47, 0.19, 0.36,
    0.04, -0.28, 0.51, -0.13, 0.26, -0.04, -0.19, 0.33, -0.32, 0.15,
    0.25, 0.11, -0.08, 0.39, -0.44, 0.17, 0.28, -0.15, 0.06, -0.27,
    -0.13, 0.34, 0.21, -0.36, 0.12, -0.09, 0.47, 0.02, -0.23, 0.18,
    0.39, -0.19, -0.31, 0.07, 0.28, -0.52, 0.14, 0.23, -0.06, 0.32,
    -0.24, 0.06, 0.17, 0.45, -0.15, 0.25, -0.35, 0.09, 0.37, -0.12,
    0.14, -0.42, 0.33, -0.02, 0.19, -0.26, 0.06, 0.51, -0.18, 0.28,
    -0.31, 0.22, -0.11, 0.17, 0.36, 0.04, -0.46, 0.13, 0.24, -0.07,
    0.07, 0.29, 0.42, -0.23, -0.09, 0.15, 0.31, -0.37, 0.01, 0.19,
    0.33, -0.14, 0.05, 0.26, -0.55, 0.38, -0.03, 0.12, -0.29, 0.44,
    -0.17, 0.41, -0.26, 0.08, 0.13, -0.34, 0.22, 0.35, -0.12, 0.03,
    0.21, -0.06, 0.36, -0.43, 0.27, 0.09, -0.21, 0.16, 0.49, -0.32,
    -0.08, 0.18, -0.37, 0.31, -0.14, 0.53, 0.04, -0.24, 0.12, 0.26,
    0.45, -0.25, 0.14, 0.02, 0.34, -0.16, -0.41, 0.21, -0.07, 0.17,
    -0.29, 0.09, 0.26, -0.12, -0.38, 0.43, 0.15, -0.05, 0.31, -0.22,
    0.11, 0.37, -0.19, 0.24, 0.06, -0.47, 0.32, 0.13, -0.26, 0.08,
]

# ---------------- estilos ----------------
colors = ['black', 'blue', 'green', 'orange', 'purple', 'grey', 'magenta', 'cyan', 'lime']
markers = ['o', 'v', '^', '<', '>', 's', '*', 'h', 'H', 'D', 'd', 'P', 'X']
n_sets = len(scatter_pct)

fig = plt.figure(figsize=(4223 / 300, 3192 / 300), dpi=300)
ax1 = fig.add_axes([0.0554, 0.2890, 0.9377, 0.7019])
ax2 = fig.add_axes([0.0554, 0.0548, 0.9377, 0.2342], sharex=ax1)

raw_phase = np.array(raw_phase_milli) / 1000.0

# datos crudos, muy transparentes (cada serie de residuos repartida entre los conjuntos)
raw_series = [(0, np.array(raw_resid_a)), (13, np.array(raw_resid_b)), (7, np.array(raw_resid_c))]
for start, resid in raw_series:
    for k in range(n_sets):
        c = colors[k % len(colors)]
        m = markers[k % len(markers)]
        idx = (k + start) % n_sets
        ph = raw_phase[idx::n_sets]
        res = resid[idx::n_sets]
        flux = np.interp(ph, model_phase, model_flux) + res / 100.0
        ax1.errorbar(ph, flux, yerr=scatter_pct[k] / 100.0, fmt=m, color=c,
                     alpha=0.08, ms=7, elinewidth=1.5, zorder=1)
        ax2.plot(ph, res, m, color=c, alpha=0.3, ms=7.5, ls='none', zorder=1)

# puntos agrupados por conjunto
handles = []
for k in range(n_sets):
    c = colors[k % len(colors)]
    m = markers[k % len(markers)]
    label = f'{sources[k]}: {scatter_pct[k]:.2f} %'
    if k < 5:
        ph = np.array(aavso_phase[k])
        fl = 1 + np.array(aavso_ppt[k]) / 1000.0
        er = aavso_err_ppt[k] / 1000.0
    else:
        j = k - 5
        ph = np.array(tess_bin_phase) + tess_dx[j]
        fl = 1 + np.array(tess_ppt[j]) / 1000.0
        er = tess_err_ppt[j] / 1000.0
    h = ax1.errorbar(ph, fl, yerr=er, fmt=m, color=c, ms=7,
                     elinewidth=1.5, label=label, zorder=3)
    handles.append(h)

h_bin, = ax1.plot(binned_phase, 1 + np.array(binned_ppt) / 1000.0, 'o', mfc='white',
                  mec='black', ms=14, mew=1.5, ls='none', zorder=4,
                  label='Binned Data: 0.05 %')
model_label = (r'$R_p^2/R_s^2$ = 0.0136 $\pm$ 0.00016' + '\n' +
               r'$T_{mid}$ = 2460136.80443 $\pm$ 0.00032 BJD$_{TDB}$')
h_model, = ax1.plot(model_phase, model_flux, color='red', lw=2.8, zorder=5,
                    label=model_label)

ax2.plot(binned_phase, binned_resid, 'o', mfc='white', mec='black', ms=11,
         mew=1.5, ls='none', zorder=4)

# ejes
ax1.set_xlim(-0.0640, 0.0646)
ax1.set_ylim(0.9695, 1.0169)
ax2.set_ylim(-1.69, 1.695)
ax1.set_yticks([0.97, 0.98, 0.99, 1.00, 1.01])
ax2.set_yticks([-1.5, -1.0, -0.5, 0.0, 0.5, 1.0, 1.5])
ax1.tick_params(labelbottom=False, labelsize=9.5)
ax2.tick_params(labelsize=9.5)
ax1.grid(axis='y', linestyle='--', alpha=0.8)
ax2.grid(axis='y', linestyle='--', alpha=0.8)
ax1.set_ylabel('Relative Flux', fontsize=14)
ax2.set_ylabel('Residuals [%]', fontsize=14)
ax2.set_xlabel('Phase', fontsize=14)

ax1.legend([h_model] + handles + [h_bin],
           [model_label] + [h.get_label() for h in handles] + ['Binned Data: 0.05 %'],
           loc='lower left', ncol=4, fontsize=10, framealpha=0.85)

plt.savefig('out.png', dpi=300)
plt.close()
